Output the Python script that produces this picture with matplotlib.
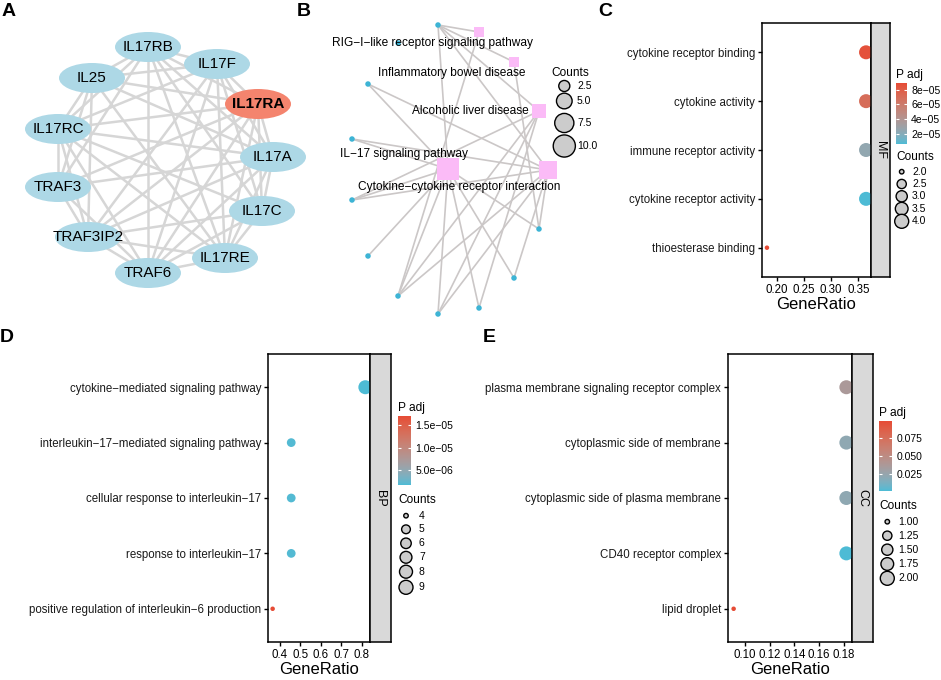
import numpy as np
import matplotlib
matplotlib.use("Agg")
import matplotlib.pyplot as plt
from matplotlib.patches import Ellipse
from matplotlib.colors import ListedColormap, Normalize, to_rgb
from matplotlib.cm import ScalarMappable

plt.rcParams['font.family'] = ['Liberation Sans', 'DejaVu Sans']
W, H = 941, 680
MINUS = '\u2212'

# ---------------- data ----------------
# panel A: PPI network (layout positions in pixels)
ppi_genes = ['IL17RB', 'IL17F', 'IL17RA', 'IL17A', 'IL17C', 'IL17RE',
             'TRAF6', 'TRAF3IP2', 'TRAF3', 'IL17RC', 'IL25']
ppi_x = [148, 217, 258, 273, 262, 225, 148, 88, 58, 58, 92]
ppi_y = [47, 64, 104, 157, 211, 258, 273, 237, 187, 129, 78]
ppi_hub = 'IL17RA'
ppi_missing = [('TRAF3', 'IL17C'), ('TRAF3', 'IL17F'), ('TRAF6', 'IL25'),
               ('TRAF3IP2', 'IL17RB'), ('IL17C', 'IL25'), ('TRAF3', 'IL17RE')]

# panel B: gene-pathway network
kegg_terms = ['RIG' + MINUS + 'I' + MINUS + 'like receptor signaling pathway',
              'Inflammatory bowel disease',
              'Alcoholic liver disease',
              'Cytokine' + MINUS + 'cytokine receptor interaction',
              'IL' + MINUS + '17 signaling pathway']
kegg_counts = [2, 2, 5, 8, 10]
kegg_x = [479, 514, 539, 548, 448]
kegg_y = [32, 62, 111, 170, 169]
kegg_label_x = [433, 452, 470, 459, 404]
kegg_label_y = [43, 73, 111, 187, 154]
gene_x = [438, 398, 368, 352, 352, 368, 398, 438, 479, 514, 539]
gene_y = [25, 43, 84, 139, 200, 256, 296, 314, 308, 278, 229]
kegg_edges = [[0, 6], [0, 10], [0, 4, 6, 7, 8],
              [0, 2, 3, 4, 6, 7, 9, 10], [0, 2, 3, 4, 5, 6, 7, 8, 9, 10]]
kegg_legend = [2.5, 5.0, 7.5, 10.0]

# panel C: GO MF
mf_terms = ['cytokine receptor binding', 'cytokine activity', 'immune receptor activity',
            'cytokine receptor activity', 'thioesterase binding']
mf_ratio = [0.364, 0.364, 0.364, 0.364, 0.182]
mf_count = [4, 4, 4, 4, 2]
mf_padj = [8.6e-05, 7.0e-05, 2.5e-05, 6.6e-06, 8.9e-05]
mf_xticks = [0.20, 0.25, 0.30, 0.35]
mf_cbar_ticks = [8e-05, 6e-05, 4e-05, 2e-05]
mf_cbar_labels = ['8e' + MINUS + '05', '6e' + MINUS + '05', '4e' + MINUS + '05', '2e' + MINUS + '05']
mf_size_legend = [2.0, 2.5, 3.0, 3.5, 4.0]

# panel D: GO BP
bp_terms = ['cytokine' + MINUS + 'mediated signaling pathway',
            'interleukin' + MINUS + '17' + MINUS + 'mediated signaling pathway',
            'cellular response to interleukin' + MINUS + '17',
            'response to interleukin' + MINUS + '17',
            'positive regulation of interleukin' + MINUS + '6 production']
bp_ratio = [0.818, 0.455, 0.455, 0.455, 0.364]
bp_count = [9, 5, 5, 5, 4]
bp_padj = [1.8e-06, 2.0e-06, 2.0e-06, 2.0e-06, 1.7e-05]
bp_xticks = [0.4, 0.5, 0.6, 0.7, 0.8]
bp_cbar_ticks = [1.5e-05, 1.0e-05, 5.0e-06]
bp_cbar_labels = ['1.5e' + MINUS + '05', '1.0e' + MINUS + '05', '5.0e' + MINUS + '06']
bp_size_legend = [4, 5, 6, 7, 8, 9]

# panel E: GO CC
cc_terms = ['plasma membrane signaling receptor complex', 'cytoplasmic side of membrane',
            'cytoplasmic side of plasma membrane', 'CD40 receptor complex', 'lipid droplet']
cc_ratio = [0.182, 0.182, 0.182, 0.182, 0.091]
cc_count = [2, 2, 2, 2, 1]
cc_padj = [0.037, 0.022, 0.022, 0.0018, 0.0977]
cc_xticks = [0.10, 0.12, 0.14, 0.16, 0.18]
cc_cbar_ticks = [0.075, 0.050, 0.025]
cc_cbar_labels = ['0.075', '0.050', '0.025']
cc_size_legend = [1.00, 1.25, 1.50, 1.75, 2.00]


# ---------------- helpers ----------------
M = np.array([[0.4124, 0.3576, 0.1805], [0.2126, 0.7152, 0.0722], [0.0193, 0.1192, 0.9505]])
WHITE = np.array([0.95047, 1.0, 1.08883])


def hex2lab(h):
    rgb = np.array(to_rgb(h))
    lin = np.where(rgb <= 0.04045, rgb / 12.92, ((rgb + 0.055) / 1.055) ** 2.4)
    xyz = M @ lin / WHITE
    f = np.where(xyz > 0.008856, np.cbrt(xyz), 7.787 * xyz + 16 / 116)
    return np.array([116 * f[1] - 16, 500 * (f[0] - f[1]), 200 * (f[1] - f[2])])


def lab2rgb(lab):
    fy = (lab[:, 0] + 16) / 116
    f = np.stack([fy + lab[:, 1] / 500, fy, fy - lab[:, 2] / 200], 1)
    xyz = np.where(f ** 3 > 0.008856, f ** 3, (f - 16 / 116) / 7.787) * WHITE
    lin = xyz @ np.linalg.inv(M).T
    lin = np.clip(lin, 0, None)
    rgb = np.where(lin <= 0.0031308, 12.92 * lin, 1.055 * lin ** (1 / 2.4) - 0.055)
    return np.clip(rgb, 0, 1)


lo, hi = hex2lab('#4DBBD5'), hex2lab('#E64B35')
t = np.linspace(0, 1, 256)[:, None]
cmap = ListedColormap(lab2rgb(lo + t * (hi - lo)))

fig = plt.figure(figsize=(W / 100, H / 100), dpi=100)


def px_axes(x0, y0, x1, y1, **kw):
    return fig.add_axes([x0 / W, 1 - y1 / H, (x1 - x0) / W, (y1 - y0) / H], **kw)


def area_pt(d_px):
    return (d_px * 0.72) ** 2


def dot_diam(c, cmin, cmax):
    return 4.5 + 9.5 * np.sqrt((np.asarray(c, float) - cmin) / (cmax - cmin))


# ---------------- panel A ----------------
axA = px_axes(0, 20, 315, 300)
axA.set_xlim(0, 315)
axA.set_ylim(300, 20)
axA.axis('off')
pos = dict(zip(ppi_genes, zip(ppi_x, ppi_y)))
for i, a in enumerate(ppi_genes):
    for b in ppi_genes[i + 1:]:
        if (a, b) in ppi_missing or (b, a) in ppi_missing:
            continue
        axA.plot([pos[a][0], pos[b][0]], [pos[a][1], pos[b][1]],
                 color='#D6D6D6', lw=1.8, zorder=1)
for g in ppi_genes:
    hub = g == ppi_hub
    axA.add_patch(Ellipse(pos[g], 66, 30, facecolor='#F4846E' if hub else '#ADD8E6',
                          edgecolor='none', zorder=2))
    axA.text(pos[g][0], pos[g][1], g, ha='center', va='center', fontsize=11,
             fontweight='bold' if hub else 'normal', zorder=3)

# ---------------- panel B ----------------
axB = px_axes(320, 10, 620, 325)
axB.set_xlim(320, 620)
axB.set_ylim(325, 10)
axB.axis('off')
for k, genes in enumerate(kegg_edges):
    for g in genes:
        axB.plot([kegg_x[k], gene_x[g]], [kegg_y[k], gene_y[g]], color='#CBC7C7', lw=1.2, zorder=1)
axB.scatter(gene_x, gene_y, s=area_pt(5.5), color='#3DB4D5', edgecolors='none', zorder=2)
side = 0.95 * 7 * np.sqrt(np.array(kegg_counts, float))
axB.scatter(kegg_x, kegg_y, s=area_pt(side), marker='s', color='#FBBBF7', edgecolors='none', zorder=2)
for k, term in enumerate(kegg_terms):
    axB.text(kegg_label_x[k], kegg_label_y[k], term, ha='center', va='center', fontsize=8.6, zorder=3)


# ---------------- dot plots ----------------
def dotplot(rect, strip_w, terms, ratio, count, padj, facet, xticks, xfmt,
            cb_rect, cb_ticks, cb_labels, size_vals, size_fmt, leg):
    x0, y0, x1, y1 = rect
    ax = px_axes(x0, y0, x1, y1)
    n = len(terms)
    ypos = np.arange(n, 0, -1)
    norm = Normalize(min(padj), max(padj))
    cmin, cmax = min(size_vals), max(size_vals)
    ax.scatter(ratio, ypos, s=area_pt(dot_diam(count, cmin, cmax)), c=padj, cmap=cmap,
               norm=norm, edgecolors='none', zorder=3)
    rng = max(ratio) - min(ratio)
    ax.set_xlim(min(ratio) - 0.05 * rng, max(ratio) + 0.05 * rng)
    ax.set_ylim(0.4, n + 0.6)
    ax.set_yticks(ypos)
    ax.set_yticklabels(terms, fontsize=8.3)
    ax.set_xticks(xticks)
    ax.set_xticklabels([xfmt % v for v in xticks], fontsize=8.3)
    ax.tick_params(length=3, width=1, pad=2, colors='black')
    ax.tick_params(axis='y', labelcolor='#1A1A1A')
    ax.set_xlabel('GeneRatio', fontsize=12, labelpad=1)
    for sp in ax.spines.values():
        sp.set_linewidth(1.1)
    st = px_axes(x1, y0, x1 + strip_w, y1)
    st.set_facecolor('#D9D9D9')
    st.set_xticks([])
    st.set_yticks([])
    for sp in st.spines.values():
        sp.set_linewidth(1.1)
    st.text(0.5, 0.5, facet, rotation=270, ha='center', va='center', fontsize=9,
            transform=st.transAxes)

    # colour bar
    cx0, cy0, cx1, cy1 = cb_rect
    cax = px_axes(cx0, cy0, cx1, cy1)
    cb = fig.colorbar(ScalarMappable(norm=norm, cmap=cmap), cax=cax, ticks=cb_ticks)
    cb.outline.set_visible(False)
    cb.set_ticklabels(cb_labels)
    cax.yaxis.set_ticks_position('both')
    cax.tick_params(direction='in', color='white', length=2.5, width=0.8,
                    labelleft=False, labelright=True, labelsize=7.5, pad=3)
    tx, ty, ccx, ys, lx = leg
    ov.text(cx0, cy0 - 8, 'P adj', fontsize=8.6, ha='left', va='center')
    ov.text(tx, ty, 'Counts', fontsize=8.6, ha='left', va='center')
    ov.scatter([ccx] * len(size_vals), ys, s=area_pt(dot_diam(size_vals, cmin, cmax)),
               facecolor='#CCCCCC', edgecolor='black', linewidths=1.0, clip_on=False)
    for v, yy in zip(size_vals, ys):
        ov.text(lx, yy, size_fmt % v, fontsize=7.5, ha='left', va='center')
    return ax


ov = fig.add_axes([0, 0, 1, 1], zorder=10)
ov.set_xlim(0, W)
ov.set_ylim(H, 0)
ov.axis('off')

dotplot((762, 23, 871, 277), 19, mf_terms, mf_ratio, mf_count, mf_padj, 'MF',
        mf_xticks, '%.2f', (896, 83, 907, 144), mf_cbar_ticks, mf_cbar_labels,
        mf_size_legend, '%.1f',
        (896, 157, 901.7, [171.7, 184, 196.3, 208.7, 221.3], 912))
dotplot((268, 354, 370, 642), 21, bp_terms, bp_ratio, bp_count, bp_padj, 'BP',
        bp_xticks, '%.1f', (398, 416, 411, 485), bp_cbar_ticks, bp_cbar_labels,
        bp_size_legend, '%d',
        (398, 500, 406, [515.7, 529.3, 543.3, 557.3, 571.7, 587.3], 419))
dotplot((728, 354, 852, 642), 21, cc_terms, cc_ratio, cc_count, cc_padj, 'CC',
        cc_xticks, '%.2f', (879, 421, 892, 491), cc_cbar_ticks, cc_cbar_labels,
        cc_size_legend, '%.2f',
        (879, 505.7, 887.3, [521.7, 535.7, 549.7, 564, 578.3], 898))

# panel B legend
ov.text(551, 73, 'Counts', fontsize=8.6, ha='left', va='center')
ov.scatter([564.3] * len(kegg_legend), [86, 101, 123, 146],
           s=area_pt(7 * np.sqrt(np.array(kegg_legend))),
           facecolor='#CCCCCC', edgecolor='black', linewidths=1.0, clip_on=False)
for v, yy in zip(kegg_legend, [86, 101, 123, 146]):
    ov.text(577, yy, '%.1f' % v, fontsize=7.5, ha='left', va='center')

# panel letters
for letter, lx, ly in [('A', 2, 12), ('B', 297, 12), ('C', 598, 12), ('D', 0, 338), ('E', 483, 338)]:
    ov.text(lx, ly, letter, fontsize=14, fontweight='bold', ha='left', va='center')

fig.savefig('out.png', dpi=100)
